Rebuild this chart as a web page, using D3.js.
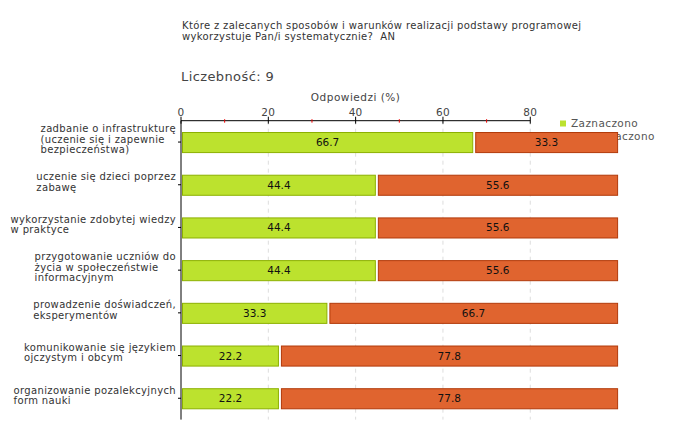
<!DOCTYPE html>
<html><head><meta charset="utf-8">
<script src="https://cdn.jsdelivr.net/npm/d3@7"></script>
<style>body{margin:0;background:#fff}svg{display:block}text{font-family:"DejaVu Sans",Verdana,sans-serif}</style>
</head><body><svg id="c" width="680" height="440"></svg>
<script>
const categories = [
  ["zadbanie o infrastrukturę","(uczenie się i zapewnie","bezpieczeństwa)"],
  ["uczenie się dzieci poprzez","zabawę"],
  ["wykorzystanie zdobytej wiedzy","w praktyce"],
  ["przygotowanie uczniów do","życia w społeczeństwie","informacyjnym"],
  ["prowadzenie doświadczeń,","eksperymentów"],
  ["komunikowanie się językiem","ojczystym i obcym"],
  ["organizowanie pozalekcyjnych","form nauki"]
];
const zaznaczono = [66.7, 44.4, 44.4, 44.4, 33.3, 22.2, 22.2];
const niezaznaczono = [33.3, 55.6, 55.6, 55.6, 66.7, 77.8, 77.8];
const seriesNames = ["Zaznaczono", "Niezaznaczono"];
const majorTicks = [0, 20, 40, 60, 80];
const minorTicks = [10, 30, 50, 70];
const titleLines = ["Które z zalecanych sposobów i warunków realizacji podstawy programowej", "wykorzystuje Pan/i systematycznie?\u00a0 AN"];
const countLabel = "Liczebność: 9";
const axisTitle = "Odpowiedzi (%)";

const svg = d3.select("#c");
const pLeft = 181, pTop = 120.7, pBottom = 419.6;
const x = d3.scaleLinear().domain([0, 100]).range([pLeft, pLeft + 436.6]);
const y = d3.scaleBand().domain(d3.range(categories.length)).range([pTop, pBottom]).paddingInner(0.53).paddingOuter(0.265);
const LS = 0.35;

// title
svg.append("g").selectAll("text").data(titleLines).join("text")
  .attr("x", 182).attr("y", (d, i) => 29 + i * 10.5)
  .attr("font-size", 10).attr("letter-spacing", LS).attr("fill", "#333").text(d => d);
svg.append("text").attr("x", 181).attr("y", 81).attr("font-size", 13).attr("letter-spacing", 0.4).attr("fill", "#444").text(countLabel);
svg.append("text").attr("x", (x(0) + x(80)) / 2).attr("y", 101).attr("text-anchor", "middle")
  .attr("font-size", 10.5).attr("letter-spacing", 0.5).attr("fill", "#444").text(axisTitle);

// grid
svg.append("g").selectAll("line").data(majorTicks.filter(d => d > 0)).join("line")
  .attr("x1", d => x(d)).attr("x2", d => x(d)).attr("y1", pTop).attr("y2", pBottom)
  .attr("stroke", "#ddd").attr("stroke-dasharray", "4,4");

// legend (drawn before bars; second entry is partly hidden)
const colors = ["#bce22e", "#e0642f"];
const strokes = ["#8cb000", "#b23a0a"];
const leg = svg.append("g").selectAll("g").data(seriesNames).join("g")
  .attr("transform", (d, i) => `translate(560,${120.5 + i * 12.5})`);
leg.append("rect").attr("width", 6).attr("height", 6).attr("fill", (d, i) => colors[i]);
leg.append("text").attr("x", 11).attr("y", 6.5).attr("font-size", 10.5).attr("letter-spacing", 0.4).attr("fill", "#555").text(d => d);

// bars
const bh = y.bandwidth();
const rows = svg.append("g").selectAll("g").data(categories.map((c, i) => i)).join("g");
rows.append("rect").attr("x", x(0) + 1.5).attr("y", i => y(i) + 0.5)
  .attr("width", i => x(zaznaczono[i]) - x(0) - 1).attr("height", bh)
  .attr("fill", colors[0]).attr("stroke", strokes[0]);
rows.append("rect").attr("x", i => x(zaznaczono[i]) + 3.5).attr("y", i => y(i) + 0.5)
  .attr("width", i => x(100) - x(zaznaczono[i]) - 3.5).attr("height", bh)
  .attr("fill", colors[1]).attr("stroke", strokes[1]);
rows.append("text").attr("x", i => (x(0) + x(zaznaczono[i])) / 2 + 1).attr("y", i => y(i) + bh / 2 + 4)
  .attr("text-anchor", "middle").attr("font-size", 10.5).attr("fill", "#111").text(i => zaznaczono[i].toFixed(1));
rows.append("text").attr("x", i => (x(zaznaczono[i]) + 3 + x(100)) / 2).attr("y", i => y(i) + bh / 2 + 4)
  .attr("text-anchor", "middle").attr("font-size", 10.5).attr("fill", "#111").text(i => niezaznaczono[i].toFixed(1));

// x axis (0..80)
const xa = svg.append("g").attr("transform", `translate(0,${pTop})`);
xa.append("line").attr("x1", x(0)).attr("x2", x(80)).attr("stroke", "#000");
xa.selectAll(".maj").data(majorTicks).join("line").attr("class", "maj")
  .attr("x1", d => x(d)).attr("x2", d => x(d)).attr("y1", -4).attr("y2", 3).attr("stroke", "#000");
xa.selectAll(".min").data(minorTicks).join("line").attr("class", "min")
  .attr("x1", d => x(d)).attr("x2", d => x(d)).attr("y1", -1.5).attr("y2", 2).attr("stroke", "#e00");
xa.selectAll("text").data(majorTicks).join("text")
  .attr("x", d => x(d)).attr("y", -5).attr("text-anchor", "middle")
  .attr("font-size", 10.5).attr("letter-spacing", 0.3).attr("fill", "#444").text(d => d);

// y axis
const ya = svg.append("g");
ya.append("line").attr("x1", pLeft).attr("x2", pLeft).attr("y1", pTop).attr("y2", pBottom).attr("stroke", "#000");
ya.selectAll(".tk").data(categories.map((c, i) => i)).join("line").attr("class", "tk")
  .attr("x1", pLeft - 3).attr("x2", pLeft).attr("y1", i => y(i) + bh / 2).attr("y2", i => y(i) + bh / 2).attr("stroke", "#000");

// category labels: block left-aligned, widest line ending near the axis
categories.forEach((lines, i) => {
  const cy = y(i) + bh / 2 - 3;
  const lh = 10.5;
  const t = ya.append("text").attr("font-size", 10).attr("letter-spacing", LS).attr("fill", "#333");
  lines.forEach((l, k) => {
    t.append("tspan").attr("y", cy - (lines.length - 1) * lh / 2 + k * lh + 3.5).text(l);
  });
  let maxW = 0;
  t.selectAll("tspan").each(function () { maxW = Math.max(maxW, this.getComputedTextLength()); });
  t.selectAll("tspan").attr("x", 176 - maxW);
});
</script></body></html>
